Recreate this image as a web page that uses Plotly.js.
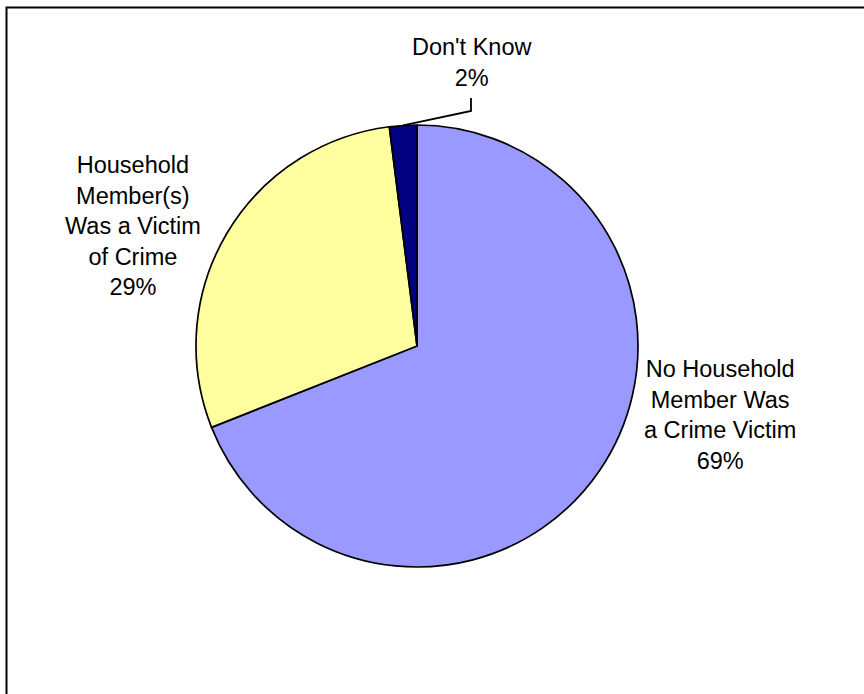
<!DOCTYPE html>
<html>
<head>
<meta charset="utf-8">
<script src="https://cdn.plot.ly/plotly-3.0.1.min.js"></script>
<style>html,body{margin:0;padding:0;background:#fff;}#chart{width:864px;height:694px;}</style>
</head>
<body>
<div id="chart"></div>
<script>
const categories = ["No Household Member Was a Crime Victim", "Household Member(s) Was a Victim of Crime", "Don't Know"];
const labelText = ["No Household<br>Member Was<br>a Crime Victim", "Household<br>Member(s)<br>Was a Victim<br>of Crime", "Don't Know"];
const values = [69, 29, 2];
const colors = ["#9999FF", "#FFFFA0", "#000080"];

const W = 864, H = 694;
const cx = 417, cy = 346, R = 221;
const px = x => x / W;
const py = y => 1 - y / H;

const total = values.reduce((a, b) => a + b, 0);
// mid-angle (clockwise from 12 o'clock) of the last slice, for its leader line
let acc = 0;
const mids = values.map(v => { const m = (acc + v / 2) / total * 2 * Math.PI; acc += v; return m; });
const lastMid = mids[2];
const sx = cx + R * Math.sin(lastMid), sy = cy - R * Math.cos(lastMid);

const labelPos = [[720, 415], [133, 226], [472, 62]];
const annotations = categories.map((c, i) => ({
  x: px(labelPos[i][0]), y: py(labelPos[i][1]), xref: 'paper', yref: 'paper',
  text: labelText[i] + '<br>' + Math.round(values[i] / total * 100) + '%',
  showarrow: false, xanchor: 'center', yanchor: 'middle',
  font: {family: 'Liberation Sans, Arial, sans-serif', size: 23.5, color: '#000'}
}));

const data = [{
  type: 'pie',
  labels: categories,
  values: values,
  sort: false,
  direction: 'clockwise',
  rotation: 0,
  textinfo: 'none',
  hoverinfo: 'label+percent',
  marker: {colors: colors, line: {color: '#000', width: 1.7}},
  domain: {x: [px(cx - R), px(cx + R)], y: [py(cy + R), py(cy - R)]}
}];

const layout = {
  width: W, height: H,
  margin: {l: 0, r: 0, t: 0, b: 0},
  paper_bgcolor: '#fff',
  showlegend: false,
  annotations: annotations,
  shapes: [
    {type: 'rect', xref: 'paper', yref: 'paper', x0: px(6.5), x1: px(880), y0: py(710), y1: py(7.5),
     line: {color: '#000', width: 2}, fillcolor: 'rgba(0,0,0,0)'},
    {type: 'path', xref: 'paper', yref: 'paper',
     path: `M ${px(sx)} ${py(sy)} L ${px(471)} ${py(111)} L ${px(471)} ${py(98)}`,
     line: {color: '#000', width: 1.8}}
  ]
};

Plotly.newPlot('chart', data, layout, {displayModeBar: false, staticPlot: true});
</script>
</body>
</html>
